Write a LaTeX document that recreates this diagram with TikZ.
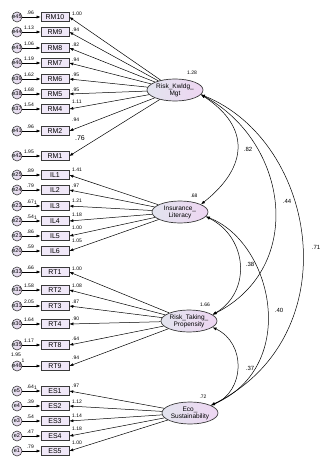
\documentclass[tikz,border=0pt]{standalone}
\usepackage{fontspec}
\setmainfont{Liberation Sans}
\usetikzlibrary{shapes.geometric,arrows.meta}
\definecolor{latl}{HTML}{E2E4EE}
\definecolor{latr}{HTML}{EED6F2}
\definecolor{obsfill}{HTML}{F0E8F8}
\definecolor{edgegray}{HTML}{3A3A3A}

\begin{document}
\begin{tikzpicture}[x=1pt, y=-1pt,
  obs/.style={draw=edgegray, line width=0.6pt, fill=obsfill, minimum width=28pt,
    minimum height=9pt, inner sep=0pt, font=\fontsize{7}{7}\selectfont},
  errc/.style={circle, draw=edgegray, line width=0.6pt, left color=latl, right color=latr,
    minimum size=10pt, inner sep=0pt, font=\fontsize{5.5}{5.5}\selectfont},
  latent/.style={ellipse, draw=edgegray, line width=0.7pt, left color=latl, right color=latr,
    minimum width=56pt, minimum height=22pt, inner sep=0pt, align=center,
    font=\fontsize{6.5}{7}\selectfont},
  est/.style={inner sep=0pt, font=\fontsize{5}{5}\selectfont},
  corr/.style={inner sep=0pt, font=\fontsize{6}{6}\selectfont},
  regarr/.style={draw=black, line width=0.5pt, -{Latex[length=4pt,width=3pt]}},
  cov/.style={draw=black, line width=0.5pt, {Latex[length=4pt,width=3pt]}-{Latex[length=4pt,width=3pt]}}]

  \useasboundingbox (0,0) rectangle (328,463);

  % Latent factors
  \node[latent] (RKM) at (175,90) {Risk\_Kwldg\_\\Mgt};
  \node[latent] (IL) at (180,212) {Insurance\_\\Literacy};
  \node[latent] (RTP) at (189,321) {Risk\_Taking\_\\Propensity};
  \node[latent] (ES) at (190,413) {Eco\_\\Sustainability};

  % Factor variances
  \node[est] (vRKM) at (192,73) {1.28};
  \node[est] (vIL) at (194,196) {.68};
  \node[est] (vRTP) at (205,305) {1.66};
  \node[est] (vES) at (203,397) {.72};

  % Indicators, error terms and loadings
  \foreach \ind/\err/\yy/\var/\load/\ly/\lat in {
      RM10/e45/17/.96/1.00/14/RKM, RM9/e44/32/1.13/.94/29.5/RKM,
      RM8/e43/48/1.06/.82/45/RKM, RM7/e40/63/1.19/.94/60/RKM,
      RM6/e39/79/1.62/.95/75/RKM, RM5/e38/94/1.68/.95/90/RKM,
      RM4/e37/109/1.54/1.11/102/RKM, RM2/e41/131/.96/.94/120/RKM,
      RM1/e42/156/1.95//138/RKM,
      IL1/e25/175/.89/1.41/170/IL, IL2/e24/190/.79/.97/185.5/IL,
      IL3/e23/206/.67/1.21/201/IL, IL4/e22/221/.54/1.18/215/IL,
      IL5/e21/236/.86/1.00/228/IL, IL6/e20/251/.59/1.05/241/IL,
      RT1/e33/272/.66/1.00/269/RTP, RT2/e32/290/1.58/1.08/286/RTP,
      RT3/e31/306/2.05/.87/301.5/RTP, RT4/e30/324/1.64/.90/319/RTP,
      RT8/e35/345/1.17/.64/339/RTP, RT9/e46/366//.94/358/RTP,
      ES1/e5/391/.64/.97/386/ES, ES2/e4/406/.39/1.12/401.5/ES,
      ES3/e3/421/.54/1.14/416/ES, ES4/e2/436/.47/1.18/429/ES,
      ES5/e1/451/.79/1.00/443/ES} {
    \node[obs] (\ind) at (55,\yy) {\ind};
    \node[errc] (\err) at (17,\yy) {\err};
    \draw[regarr] (\err) -- (\ind);
    \draw[regarr] (\lat) -- (\ind.east);
    \node[est, anchor=base east] (v\err) at (34,\yy-3) {\var};
    \node[est, anchor=west] (l\ind) at (72,\ly) {\load};
  }

  % Labels set apart
  \node[inner sep=0pt, font=\fontsize{7}{7}\selectfont] (lRM1b) at (80,138) {.76};
  \node[est] (ve46b) at (16,355) {1.95};
  \node[est, anchor=base] (one46) at (23,362) {1};
  \node[est, anchor=base west] (one23) at (34,204) {1};
  \node[est, anchor=base west] (one22) at (34,219) {1};
  \node[est, anchor=base west] (one5) at (34,389) {1};

  % Covariances between factors
  \draw[cov] (RKM.-10) .. controls +(49,32) and +(48,-38) .. (IL.20);
  \draw[cov] (RKM.-10) .. controls +(87,47) and +(94,-48) .. (RTP.15);
  \draw[cov] (RKM.-10) .. controls +(117,47) and +(139,-69) .. (ES.20);
  \draw[cov] (IL.-10) .. controls +(42,21) and +(39,-23) .. (RTP.15);
  \draw[cov] (IL.-10) .. controls +(67,26) and +(89,-39) .. (ES.20);
  \draw[cov] (RTP.-15) .. controls +(34,16) and +(34,-14) .. (ES.20);

  \node[corr] (c12) at (248,149) {.82};
  \node[corr] (c13) at (287,201) {.44};
  \node[corr] (c14) at (316,247) {.71};
  \node[corr] (c23) at (250,264) {.38};
  \node[corr] (c24) at (279,310) {.40};
  \node[corr] (c34) at (250,368) {.37};
\end{tikzpicture}
\end{document}
